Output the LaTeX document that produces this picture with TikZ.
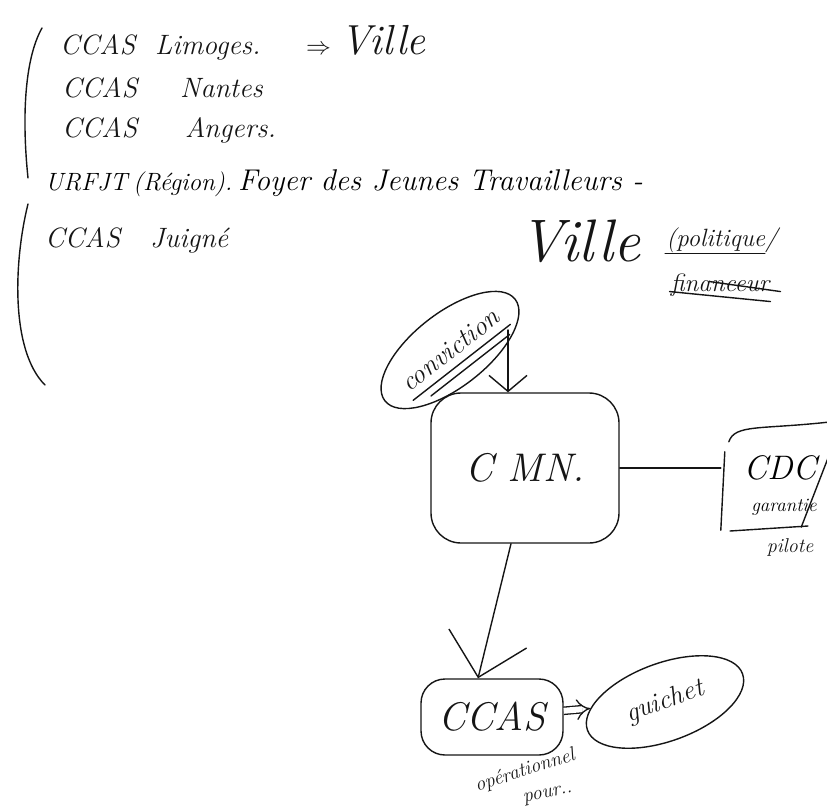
\documentclass[tikz,border=0pt]{standalone}
\usepackage{fontspec}
\usepackage{tikz}
\usetikzlibrary{arrows.meta,shapes.geometric,positioning,calc}
\definecolor{ink}{HTML}{151515}
\tikzset{
  hand/.style={font=\fontsize{28}{30}\selectfont\itshape\color{ink},inner sep=0pt,anchor=base west},
  hand_big/.style={font=\fontsize{60}{62}\selectfont\itshape\color{ink},inner sep=1pt},
  hand_mid/.style={font=\fontsize{25}{27}\selectfont\itshape\color{ink},inner sep=1pt},
  hand_small/.style={font=\fontsize{20}{22}\selectfont\itshape\color{ink},inner sep=1pt},
  node_box/.style={draw=ink,line width=1.4pt,rounded corners=30pt,
    font=\fontsize{40}{42}\selectfont\itshape\color{ink},align=center},
  node_oval/.style={ellipse,draw=ink,line width=1.4pt,inner sep=0pt,
    font=\fontsize{27}{29}\selectfont\itshape\color{ink},align=center},
  stroke/.style={draw=ink,line width=1.4pt,line cap=round},
  arr/.style={-{Straight Barb[length=16pt,width=38pt]},draw=ink,line width=1.4pt,line cap=round},
  arr_big/.style={-{Straight Barb[length=40pt,width=80pt]},draw=ink,line width=1.4pt,line cap=round},
  arr_dbl/.style={-{Implies},double,double distance=6pt,draw=ink,line width=1.3pt},
}
\begin{document}
\begin{tikzpicture}[x=1pt,y=-1pt]
  \useasboundingbox (0,0) rectangle (827,807);

  % list on the left
  \node[hand] (ccas_lim) at (60,54) {CCAS};
  \node[hand] (limoges) at (155,54) {Limoges.};
  \node[hand] (ville_top) at (306,54) {{\fontsize{36}{38}\selectfont$\Rightarrow$} {\fontsize{42}{44}\selectfont Ville}};
  \node[hand] (ccas_nan) at (62,97) {CCAS};
  \node[hand] (nantes) at (180,97) {Nantes};
  \node[hand] (ccas_ang) at (62,137) {CCAS};
  \node[hand] (angers) at (185,137) {Angers.};
  \node[hand,font=\fontsize{25}{27}\selectfont\itshape] (urfjt) at (45,190) {URFJT};
  \node[hand,font=\fontsize{25}{27}\selectfont\itshape] (region) at (133,190) {(Région).};
  \node[hand,font=\fontsize{30}{32}\selectfont\itshape] (foyer) at (238,190) {Foyer des Jeunes Travailleurs -};
  \node[hand] (ccas_jui) at (45,247) {CCAS};
  \node[hand] (juigne) at (150,247) {Juigné};

  \draw[stroke] (42,28) .. controls (24,60) and (22,120) .. (28,178);
  \draw[stroke] (28,204) .. controls (14,260) and (10,350) .. (45,385);

  % ville, conviction
  \node[hand_big] (ville) at (580,241) {Ville};
  \node[hand_mid] (politique) at (722,240) {(politique/};
  \node[hand_mid] (financeur) at (720,285) {financeur};
  \draw[stroke] (politique.south west) -- ([xshift=-14pt]politique.south east);
  \draw[stroke] ([yshift=6pt]financeur.south west) -- ([yshift=-4pt]financeur.south east);
  \draw[stroke] ([xshift=40pt,yshift=16pt]financeur.south west) -- ([xshift=10pt,yshift=6pt]financeur.south east);

  \node[node_oval,minimum width=155pt,minimum height=74pt,rotate=38] (conv) at (450,350) {conviction};
  \draw[stroke] ($(conv.west)!0.14!(conv.east) + 0.45*(conv.south) - 0.45*(conv.center)$) -- ($(conv.west)!0.88!(conv.east) + 0.45*(conv.south) - 0.45*(conv.center)$);
  \draw[stroke] ($(conv.west)!0.24!(conv.east) + 0.65*(conv.south) - 0.65*(conv.center)$) -- ($(conv.west)!0.84!(conv.east) + 0.65*(conv.south) - 0.65*(conv.center)$);

  % centre
  \node[node_box,minimum width=188pt,minimum height=150pt] (cmn) at (525,468) {C MN.};
  \coordinate (drop) at (508,330);
  \draw[arr] (drop) -- (drop |- cmn.north);

  % CDC on the right edge
  \node[minimum width=110pt,minimum height=110pt,inner sep=0pt] (cdc_box) at (776,487) {};
  \node[hand_mid,font=\fontsize{34}{36}\selectfont\itshape] (cdc) at (780,468) {CDC};
  \node[hand_small,font=\fontsize{19}{21}\selectfont\itshape] (garantie) at (784,507) {garantie};
  \node[hand_small] (pilote) at (790,547) {pilote};
  \draw[stroke] ([yshift=12pt]cdc_box.south west) -- ([xshift=4pt,yshift=-20pt]cdc_box.north west);
  \draw[stroke] ([xshift=8pt,yshift=-10pt]cdc_box.north west) .. controls ([xshift=14pt,yshift=8pt]cdc_box.north west) and ([xshift=40pt,yshift=2pt]cdc_box.north west) .. ([yshift=10pt]cdc_box.north east);
  \draw[stroke] ([yshift=-18pt]cdc_box.north east) -- ([xshift=-30pt,yshift=15pt]cdc_box.south east);
  \draw[stroke] (730,531) -- (808,526);
  \draw[stroke] (cmn.east) -- (cmn.east -| cdc_box.west);

  % bottom
  \node[node_box,minimum width=142pt,minimum height=76pt,rounded corners=24pt] (ccas) at (492,717) {CCAS};
  \node[node_oval,minimum width=165pt,minimum height=78pt,rotate=20] (guichet) at (665,702) {guichet};
  \draw[arr_big] ([xshift=-14pt]cmn.south) -- ([xshift=-14pt]ccas.north);
  \draw[arr_dbl] (ccas) -- (guichet);
  \node[hand_small,rotate=18] (operationnel) at (525,771) {opérationnel};
  \node[hand_small,rotate=12] (pour) at (548,795) {pour..};
\end{tikzpicture}
\end{document}
